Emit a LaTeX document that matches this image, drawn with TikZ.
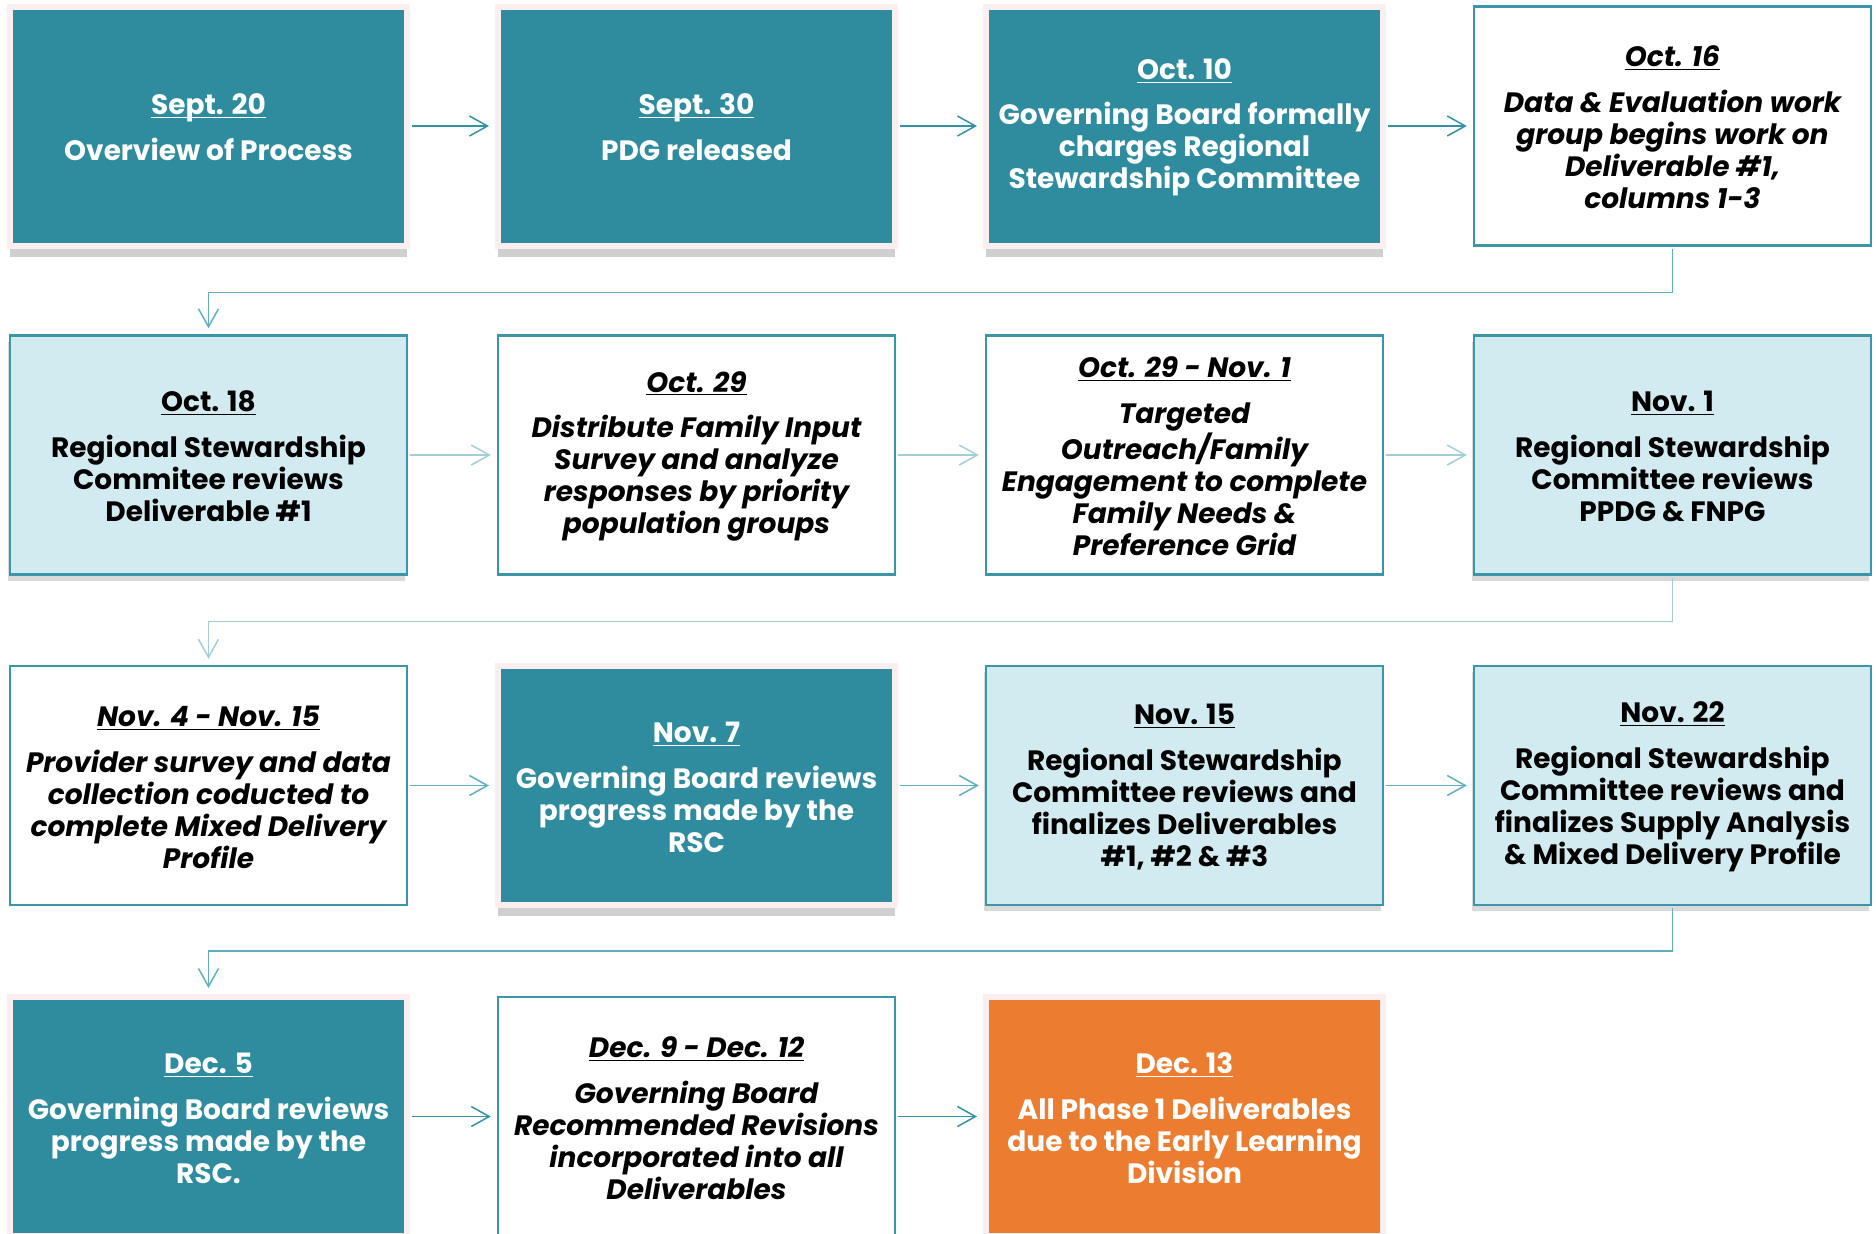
\documentclass[tikz,border=0pt]{standalone}
\usepackage{fontspec}
\setmainfont{Poppins}
\usetikzlibrary{arrows.meta,shadows}
\definecolor{boxteal}{RGB}{47,140,158}
\definecolor{boxpale}{RGB}{210,235,240}
\definecolor{boxedge}{RGB}{58,150,168}
\definecolor{boxpink}{RGB}{250,238,238}
\definecolor{boxorange}{RGB}{236,125,48}
\definecolor{linkdark}{RGB}{52,145,163}
\definecolor{linkmid}{RGB}{95,175,193}
\definecolor{linklight}{RGB}{165,205,215}
\newcommand{\datemark}[1]{\rule{0pt}{11.8pt}\underline{\smash{#1}}}
\begin{document}
\begin{tikzpicture}[x=0.5pt,y=-0.5pt,
    card/.style={rectangle,minimum width=198.5pt,minimum height=119.5pt,align=center,inner sep=0pt,
      font=\fontsize{14pt}{16pt}\selectfont\bfseries},
    darkcard/.style={card,fill=boxteal,draw=boxpink,line width=3pt,text=white,
      drop shadow={shadow xshift=0pt,shadow yshift=-5.5pt,opacity=0.38}},
    orangecard/.style={darkcard,fill=boxorange},
    palecard/.style={card,fill=boxpale,draw=boxedge,line width=1.2pt,
      drop shadow={shadow xshift=-1pt,shadow yshift=-3pt,opacity=0.3}},
    plaincard/.style={card,fill=white,draw=boxedge,line width=1.2pt,
      font=\fontsize{14pt}{16pt}\selectfont\bfseries\itshape},
    link/.style={line width=0.75pt,-{Straight Barb[length=9pt,width=10pt]},shorten >=3pt,shorten <=1pt}]
    \useasboundingbox (0,0) rectangle (1876,1233);
    \node[darkcard] (sep20) at (208.5,126) {\datemark{Sept. 20}\\[6.9pt]Overview of Process};
    \node[darkcard] (sep30) at (696.5,126) {\datemark{Sept. 30}\\[6.9pt]PDG released};
    \node[darkcard] (oct10) at (1184.5,126) {\datemark{Oct. 10}\\[6.9pt]Governing Board formally\\charges Regional\\Stewardship Committee};
    \node[plaincard] (oct16) at (1672.5,126) {\datemark{Oct. 16}\\[6.9pt]Data \& Evaluation work\\group begins work on\\Deliverable \#1,\\columns 1-3};
    \node[palecard] (oct18) at (208.5,455) {\datemark{Oct. 18}\\[6.9pt]Regional Stewardship\\Commitee reviews\\Deliverable \#1};
    \node[plaincard] (oct29) at (696.5,455) {\datemark{Oct. 29}\\[6.9pt]Distribute Family Input\\Survey and analyze\\responses by priority\\population groups};
    \node[plaincard] (oct29nov1) at (1184.5,455) {\datemark{Oct. 29 - Nov. 1}\\[6.9pt]Targeted\\Outreach/Family\\Engagement to complete\\Family Needs \&\\Preference Grid};
    \node[palecard] (nov1) at (1672.5,455) {\datemark{Nov. 1}\\[6.9pt]Regional Stewardship\\Committee reviews\\PPDG \& FNPG};
    \node[plaincard] (nov4) at (208.5,785.5) {\datemark{Nov. 4 - Nov. 15}\\[6.9pt]Provider survey and data\\collection coducted to\\complete Mixed Delivery\\Profile};
    \node[darkcard] (nov7) at (696.5,785.5) {\datemark{Nov. 7}\\[6.9pt]Governing Board reviews\\progress made by the\\RSC};
    \node[palecard] (nov15) at (1184.5,785.5) {\datemark{Nov. 15}\\[6.9pt]Regional Stewardship\\Committee reviews and\\finalizes Deliverables\\\#1, \#2 \& \#3};
    \node[palecard] (nov22) at (1672.5,785.5) {\datemark{Nov. 22}\\[6.9pt]Regional Stewardship\\Committee reviews and\\finalizes Supply Analysis\\\& Mixed Delivery Profile};
    \node[darkcard] (dec5) at (208.5,1116.5) {\datemark{Dec. 5}\\[6.9pt]Governing Board reviews\\progress made by the\\RSC.};
    \node[plaincard] (dec9) at (696.5,1116.5) {\datemark{Dec. 9 - Dec. 12}\\[6.9pt]Governing Board\\Recommended Revisions\\incorporated into all\\Deliverables};
    \node[orangecard] (dec13) at (1184.5,1116.5) {\datemark{Dec. 13}\\[6.9pt]All Phase 1 Deliverables\\due to the Early Learning\\Division};
    \draw[link,linkdark] (sep20) -- (sep30);
    \draw[link,linkdark] (sep30) -- (oct10);
    \draw[link,linkdark] (oct10) -- (oct16);
    \draw[link,linkmid] (oct16.south) -- ++(0,46) -| (oct18);
    \draw[link,linklight] (oct18) -- (oct29);
    \draw[link,linklight] (oct29) -- (oct29nov1);
    \draw[link,linklight] (oct29nov1) -- (nov1);
    \draw[link,linklight] (nov1.south) -- ++(0,46) -| (nov4);
    \draw[link,linkmid] (nov4) -- (nov7);
    \draw[link,linkmid] (nov7) -- (nov15);
    \draw[link,linkmid] (nov15) -- (nov22);
    \draw[link,linkmid] (nov22.south) -- ++(0,45) -| (dec5);
    \draw[link,linkdark] (dec5) -- (dec9);
    \draw[link,linkdark] (dec9) -- (dec13);
\end{tikzpicture}
\end{document}
